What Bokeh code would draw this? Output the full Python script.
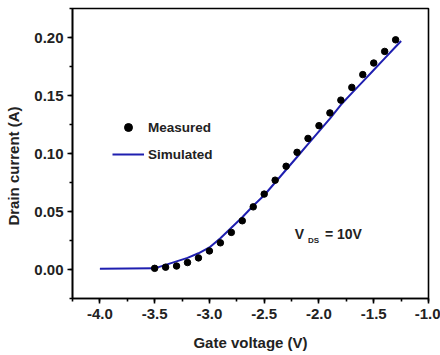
from bokeh.plotting import figure
from bokeh.models import SingleIntervalTicker, NumeralTickFormatter, Legend, LegendItem, Label, Range1d
from bokeh.embed import file_html
from bokeh.resources import INLINE

# Measured data
gate_measured = [-3.5, -3.4, -3.3, -3.2, -3.1, -3.0, -2.9, -2.8, -2.7, -2.6, -2.5,
                 -2.4, -2.3, -2.2, -2.1, -2.0, -1.9, -1.8, -1.7, -1.6, -1.5, -1.4, -1.3]
current_measured = [0.001, 0.002, 0.003, 0.006, 0.010, 0.016, 0.023, 0.032, 0.042, 0.054, 0.065,
                    0.077, 0.089, 0.101, 0.113, 0.124, 0.135, 0.146, 0.157, 0.168, 0.178, 0.188, 0.198]

# Simulated curve
gate_sim = [-4.0, -3.5, -3.4, -3.3, -3.2, -3.1, -3.0, -2.9, -2.8, -2.7, -2.6, -2.5,
            -2.4, -2.3, -2.2, -2.1, -2.0, -1.9, -1.8, -1.7, -1.6, -1.5, -1.4, -1.3, -1.25]
current_sim = [0.0007, 0.001, 0.004, 0.007, 0.010, 0.014, 0.019, 0.027, 0.036, 0.045, 0.055, 0.064,
               0.075, 0.086, 0.097, 0.108, 0.119, 0.130, 0.142, 0.152, 0.162, 0.172, 0.182, 0.192, 0.197]

FONT = "Liberation Sans"
TXT = "#222222"

p = figure(width=440, height=355, output_backend="svg", toolbar_location=None,
           x_range=Range1d(-4.25, -1.0), y_range=Range1d(-0.025, 0.225),
           min_border_left=72, min_border_right=12, min_border_top=8, min_border_bottom=57)
p.grid.visible = False
p.background_fill_color = "white"
p.border_fill_color = "white"
p.outline_line_color = "black"
p.outline_line_width = 1.6

line_r = p.line(gate_sim, current_sim, line_color="#1f1fb0", line_width=2)
dots_r = p.scatter(gate_measured, current_measured, size=6.5, color="black")

p.xaxis.ticker = SingleIntervalTicker(interval=0.5, num_minor_ticks=2)
p.yaxis.ticker = SingleIntervalTicker(interval=0.05, num_minor_ticks=2)
p.xaxis.formatter = NumeralTickFormatter(format="0.0")
p.yaxis.formatter = NumeralTickFormatter(format="0.00")

for ax in (p.xaxis[0], p.yaxis[0]):
    ax.axis_line_width = 1.6
    ax.major_tick_line_width = 1.6
    ax.minor_tick_line_width = 1.6
    ax.major_tick_out = 5
    ax.major_tick_in = 0
    ax.minor_tick_out = 3
    ax.minor_tick_in = 0
    ax.major_label_text_font = FONT
    ax.major_label_text_font_style = "bold"
    ax.major_label_text_font_size = "15px"
    ax.major_label_text_color = TXT
    ax.axis_label_text_font = FONT
    ax.axis_label_text_font_style = "bold"
    ax.axis_label_text_font_size = "15px"
    ax.axis_label_text_color = TXT

p.xaxis.axis_label = "Gate voltage (V)"
# trailing no-break spaces nudge the rotated title a little below the frame centre
p.yaxis.axis_label = "Drain current (A)" + "\u00a0" * 6
p.xaxis.major_label_standoff = 5
p.yaxis.major_label_standoff = 4
p.xaxis.axis_label_standoff = 12
p.yaxis.axis_label_standoff = 9

legend = Legend(items=[LegendItem(label="Measured", renderers=[dots_r]),
                       LegendItem(label="Simulated", renderers=[line_r])],
                location=(40, 134), padding=0, margin=0, spacing=7,
                glyph_width=32, glyph_height=20, label_height=20, label_standoff=4,
                label_text_font=FONT, label_text_font_style="bold", label_text_font_size="13.5px",
                label_text_color=TXT,
                border_line_color=None, background_fill_alpha=0)
p.add_layout(legend)

lab_kw = dict(text_font=FONT, text_font_style="bold", text_color=TXT, text_baseline="middle")
p.add_layout(Label(x=-2.22, y=0.031, text="V", text_font_size="14px", **lab_kw))
p.add_layout(Label(x=-2.1, y=0.025, text="DS", text_font_size="8px", **lab_kw))
p.add_layout(Label(x=-1.945, y=0.031, text="= 10V", text_font_size="14px", **lab_kw))

open("out.html", "w").write(file_html(p, INLINE))
